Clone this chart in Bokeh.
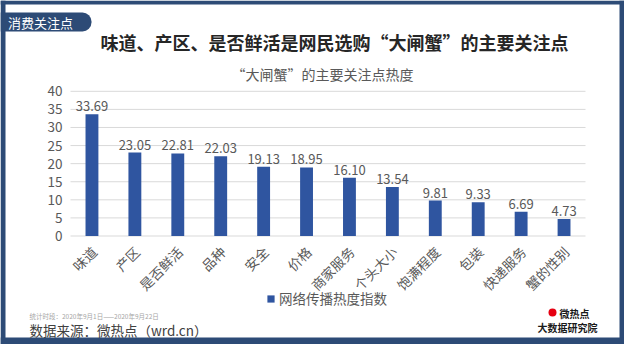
import math
from bokeh.plotting import figure
from bokeh.models import (Range1d, Label, BoxAnnotation, Legend, LegendItem,
                          ColumnDataSource)
from bokeh.core.properties import value
from bokeh.embed import file_html
from bokeh.resources import INLINE

# ---------------- data ----------------
categories = ["味道", "产区", "是否鲜活", "品种", "安全", "价格",
              "商家服务", "个头大小", "饱满程度", "包装", "快递服务", "蟹的性别"]
heat_index = [33.69, 23.05, 22.81, 22.03, 19.13, 18.95,
              16.10, 13.54, 9.81, 9.33, 6.69, 4.73]
y_ticks = [0, 5, 10, 15, 20, 25, 30, 35, 40]
y_tick_labels = [str(t) for t in y_ticks]
series_name = "网络传播热度指数"
title_text = "味道、产区、是否鲜活是网民选购“大闸蟹”的主要关注点"
subtitle_text = "“大闸蟹”的主要关注点热度"
tab_text = "消费关注点"
period_text = "统计时段：2020年9月1日——2020年9月22日"
source_text = "数据来源：微热点（wrd.cn）"
logo_line1 = "微热点"
logo_line2 = "大数据研究院"

# ---------------- layout / style ----------------
FONT = "Noto Sans CJK SC"
W, H = 624, 344
PLOT_L, PLOT_R = 70.0, 585.0      # canvas px of plotting area
PLOT_B, PLOT_T = 235.5, 90.8      # canvas px of y=0 and y=40
Y_MAX = 40.0
N = len(categories)

BAR = "#2f55a0"
FRAME_BLUE = "#2d4b76"
GRAY = "#595959"
GRID = "#d9d9d9"

ux = (PLOT_R - PLOT_L) / N
uy = (PLOT_B - PLOT_T) / Y_MAX
x_range = Range1d(-PLOT_L / ux, N + (W - PLOT_R) / ux)
y_range = Range1d(-(H - PLOT_B) / uy, Y_MAX + PLOT_T / uy)

p = figure(width=W, height=H, output_backend="svg", toolbar_location=None,
           x_range=x_range, y_range=y_range,
           x_axis_location=None, y_axis_location=None,
           min_border=0, min_border_left=0, min_border_right=0,
           min_border_top=0, min_border_bottom=0)
p.outline_line_color = None
p.grid.visible = False
p.background_fill_color = "white"
p.border_fill_color = "white"

xpos = [i + 0.5 for i in range(N)]
src = ColumnDataSource(dict(x=xpos, cat=categories, val=heat_index,
                            lab=["%.2f" % v for v in heat_index]))

# grid lines
p.segment(x0=[0] * len(y_ticks), x1=[N] * len(y_ticks), y0=y_ticks, y1=y_ticks,
          line_color=GRID, line_width=1)

bars = p.vbar(x="x", top="val", bottom=0, width=0.3, source=src,
              fill_color=BAR, line_color=None)

# value labels
p.text(x="x", y="val", text="lab", source=src, text_align="center",
       text_baseline="bottom", y_offset=-3, text_font=value(FONT),
       text_font_size="13px", text_color=GRAY)

# y tick labels
p.text(x=[0] * len(y_ticks), y=y_ticks, text=y_tick_labels, x_offset=-8,
       text_align="right", text_baseline="middle", text_font=value(FONT),
       text_font_size="13.5px", text_color=GRAY)

# x category labels (rotated)
p.text(x="x", y=0, text="cat", source=src, angle=math.pi / 4,
       x_offset=2, y_offset=13, text_align="right", text_baseline="middle",
       text_font=value(FONT), text_font_size="13.5px", text_color=GRAY)


# decorations in screen units (frame == whole canvas)
def box(x0, y0, x1, y1, color, radius=0):
    p.add_layout(BoxAnnotation(left=x0, right=x1, top=H - y0, bottom=H - y1,
                               left_units="screen", right_units="screen",
                               top_units="screen", bottom_units="screen",
                               fill_color=color, fill_alpha=1.0,
                               line_color=None, border_radius=radius))


def text(x, y, t, size, color, align="left", style="normal"):
    p.add_layout(Label(x=x, y=H - y, x_units="screen", y_units="screen",
                       text=t, text_font=FONT, text_font_size=size,
                       text_color=color, text_align=align,
                       text_baseline="middle", text_font_style=style))


# frame border
box(0, 0, W, 4, FRAME_BLUE)
box(0, 0, 5, H, FRAME_BLUE)
box(W - 5, 0, W, H, FRAME_BLUE)
box(0, H - 7, W, H, FRAME_BLUE)

# tab
box(0, 12, 91, 31, FRAME_BLUE, radius=(0, 9, 9, 0))
text(40, 21.5, tab_text, "13px", "white", align="center")

# titles
text(334, 41, title_text, "18px", "#262626", align="center", style="bold")
text(322, 73.5, subtitle_text, "14px", GRAY, align="center")

# footer
text(29, 315.5, period_text, "6.5px", "#a6a6a6")
text(29, 329.5, source_text, "13.5px", "#404040")

# logo
box(548, 308, 556, 316, "#e60012", radius=4)
text(559, 313, logo_line1, "10px", "#1a1a1a", style="bold")
text(537, 327, logo_line2, "10px", "#1a1a1a", style="bold")

# legend
legend = Legend(items=[LegendItem(label=series_name, renderers=[bars])],
                location=(266, H - 308), orientation="horizontal",
                padding=0, margin=0, glyph_width=9, glyph_height=9,
                label_height=9, label_standoff=4,
                label_text_font=FONT, label_text_font_size="13.5px",
                label_text_color=GRAY, border_line_color=None,
                background_fill_alpha=0)
p.add_layout(legend)

open("out.html", "w").write(file_html(p, INLINE))
